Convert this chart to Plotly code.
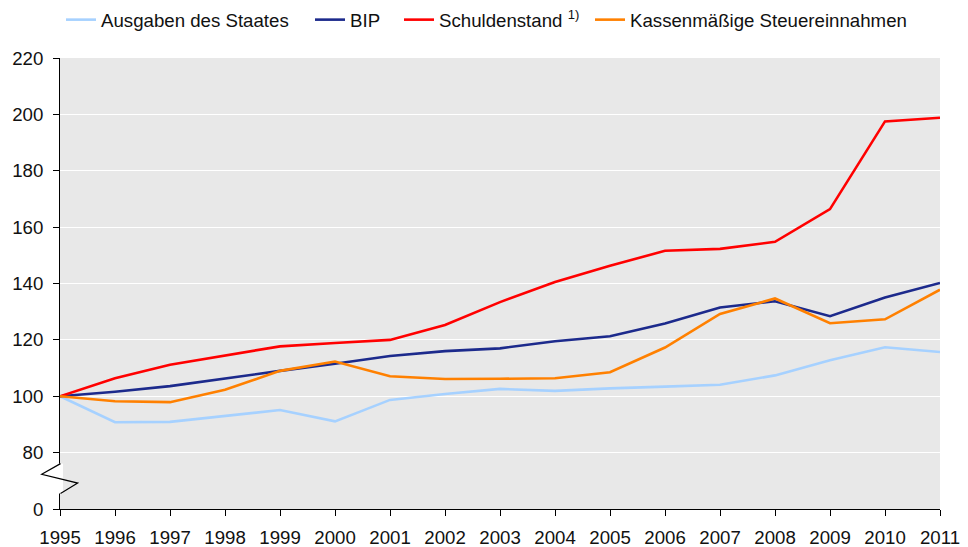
import plotly.graph_objects as go

years = list(range(1995, 2012))
ausgaben = [100, 90.8, 90.9, 92.9, 95.1, 91.1, 98.7, 100.8, 102.6, 101.9, 102.8, 103.4, 104.1, 107.4, 112.8, 117.4, 115.7]
bip = [100, 101.6, 103.6, 106.4, 109.0, 111.5, 114.3, 116.0, 117.0, 119.5, 121.3, 125.8, 131.5, 133.7, 128.4, 135.0, 140.2]
schulden = [100, 106.4, 111.2, 114.5, 117.7, 118.9, 120.0, 125.3, 133.4, 140.5, 146.3, 151.6, 152.3, 154.8, 166.4, 197.5, 198.8]
steuer = [100, 98.2, 97.9, 102.3, 109.0, 112.3, 107.1, 106.1, 106.2, 106.4, 108.5, 117.3, 129.2, 134.7, 125.9, 127.3, 137.8]

series_names = ["Ausgaben des Staates", "BIP", "Schuldenstand <sup>1)</sup>", "Kassenmäßige Steuereinnahmen"]
series_values = [ausgaben, bip, schulden, steuer]
series_colors = ["#a6d1ff", "#1c2a8c", "#ff0000", "#ff8000"]
legend_ids = ["legend", "legend2", "legend3", "legend4"]
legend_text_x = [102, 351, 440, 631]  # screen pixel x where each legend text starts

y_tickvals = [60, 80, 100, 120, 140, 160, 180, 200, 220]
y_ticktext = ["0", "80", "100", "120", "140", "160", "180", "200", "220"]

OFF = 8  # page body margin
W, H = 968 - OFF, 547 - OFF
ML, MT = 60 - OFF, 58 - OFF
PW, PH = 880, 451
MR, MB = W - ML - PW, H - MT - PH

font = dict(family="Liberation Sans, Arial, sans-serif", size=18.67, color="#111111")

fig = go.Figure()
for name, vals, col, lid in zip(series_names, series_values, series_colors, legend_ids):
    fig.add_trace(go.Scatter(x=years, y=vals, mode="lines", name=name,
                             line=dict(color=col, width=2.6), legend=lid))

layout_legends = {}
for lid, tx in zip(legend_ids, legend_text_x):
    layout_legends[lid] = dict(orientation="h", xref="container", yref="container",
                               x=(tx - OFF - 41) / W, xanchor="left",
                               y=1 - (20 - OFF) / H, yanchor="middle",
                               font=font, bgcolor="rgba(0,0,0,0)")

fig.update_layout(
    width=W, height=H,
    margin=dict(l=ML, r=MR, t=MT, b=MB, autoexpand=False),
    paper_bgcolor="white",
    plot_bgcolor="#e8e8e8",
    font=font,
    showlegend=True,
    xaxis=dict(range=[1995, 2011], tickmode="array", tickvals=years,
               ticktext=[str(y) for y in years], showgrid=False, zeroline=False,
               showline=True, linecolor="black", linewidth=1, automargin=False,
               ticks="outside", ticklen=6, tickcolor="black", tickfont=font,
               ticklabelstandoff=6),
    yaxis=dict(range=[60, 220], tickmode="array", tickvals=y_tickvals,
               ticktext=y_ticktext, showgrid=True, gridcolor="white", gridwidth=1.2,
               zeroline=False, showline=True, linecolor="black", linewidth=1, automargin=False,
               ticks="outside", ticklen=6, tickcolor="black", tickfont=font,
               ticklabelstandoff=6),
    **layout_legends,
)

# axis break symbol (screen pixel x converted to paper fraction)
def px(p):
    return (p - 60) / PW

fig.add_shape(type="rect", xref="paper", yref="y", x0=px(56), x1=px(63), y0=65.5, y1=76.1,
              fillcolor="white", line=dict(width=0), layer="above")
fig.add_shape(type="path", xref="paper", yref="y",
              path=f"M {px(60.5)},76.1 L {px(41.7)},72.3 L {px(77.7)},69.2 L {px(60.5)},65.5",
              line=dict(color="black", width=1.2), layer="above")

fig.write_html("out.html")
